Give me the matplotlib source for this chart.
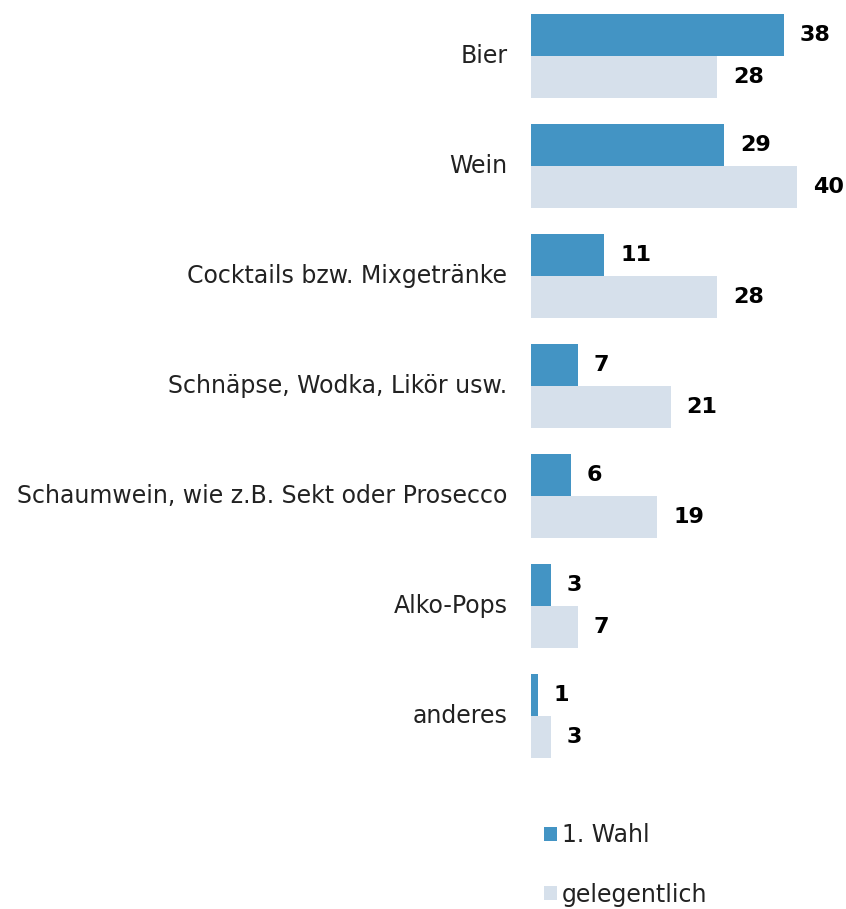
import matplotlib.pyplot as plt
import numpy as np

categories = ["Bier", "Wein", "Cocktails bzw. Mixgetränke",
              "Schnäpse, Wodka, Likör usw.",
              "Schaumwein, wie z.B. Sekt oder Prosecco",
              "Alko-Pops", "anderes"]
erste_wahl = [38, 29, 11, 7, 6, 3, 1]
gelegentlich = [28, 40, 28, 21, 19, 7, 3]
series_labels = ["1. Wahl", "gelegentlich"]

blue = "#4394c4"
grey = "#d6e0eb"
plt.rcParams["font.family"] = ["DejaVu Sans"]

W, H = 846, 909
fig = plt.figure(figsize=(W / 100, H / 100), dpi=100)
ax = fig.add_axes([531 / W, 0, 266 / W, 1])

y = np.arange(len(categories))
h = 0.382
b1 = ax.barh(y - h / 2, erste_wahl, height=h, color=blue, label=series_labels[0])
b2 = ax.barh(y + h / 2, gelegentlich, height=h, color=grey, label=series_labels[1])

ax.set_xlim(0, 40)
ax.set_ylim(7.755, -0.509)
ax.axis("off")

for bars, vals in ((b1, erste_wahl), (b2, gelegentlich)):
    for bar, v in zip(bars, vals):
        ax.annotate(str(v), (v, bar.get_y() + bar.get_height() / 2),
                    xytext=(11.5, 0), textcoords="offset points",
                    va="center", ha="left", fontsize=16, fontweight="bold",
                    color="black", annotation_clip=False)

for yi, name in zip(y, categories):
    ax.annotate(name, (0, yi), xytext=(-17, 0), textcoords="offset points",
                va="center", ha="right", fontsize=17, color="#222222",
                annotation_clip=False)

leg = fig.legend(handles=[b1, b2], loc="upper left",
                 bbox_to_anchor=(523 / W, 1 - 802 / H),
                 frameon=False, fontsize=17, handlelength=0.55, handleheight=0.55,
                 handletextpad=0.2, labelspacing=1.5, labelcolor="#222222")

fig.savefig("out.png", dpi=100)
